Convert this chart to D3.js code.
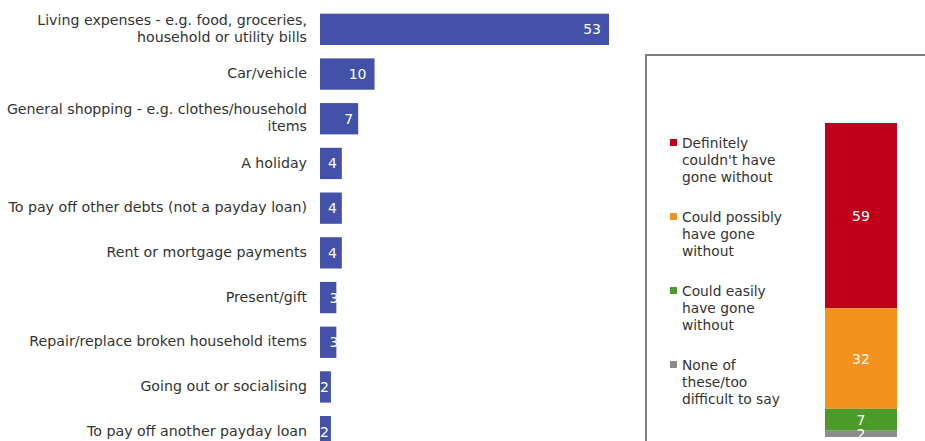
<!DOCTYPE html>
<html>
<head>
<meta charset="utf-8">
<script src="https://cdn.jsdelivr.net/npm/d3@7"></script>
<style>
  html, body { margin: 0; padding: 0; background: #fff; overflow: hidden; }
  text { font-family: "DejaVu Sans", Verdana, sans-serif; }
</style>
</head>
<body>
<script>
// ---- Data ----
const categories = [
  "Living expenses - e.g. food, groceries, household or utility bills",
  "Car/vehicle",
  "General shopping - e.g. clothes/household items",
  "A holiday",
  "To pay off other debts (not a payday loan)",
  "Rent or mortgage payments",
  "Present/gift",
  "Repair/replace broken household items",
  "Going out or socialising",
  "To pay off another payday loan"
];
const categoryLines = [
  ["Living expenses - e.g. food, groceries,", "household or utility bills"],
  ["Car/vehicle"],
  ["General shopping - e.g. clothes/household", "items"],
  ["A holiday"],
  ["To pay off other debts (not a payday loan)"],
  ["Rent or mortgage payments"],
  ["Present/gift"],
  ["Repair/replace broken household items"],
  ["Going out or socialising"],
  ["To pay off another payday loan"]
];
const values = [53, 10, 7, 4, 4, 4, 3, 3, 2, 2];

const stackSeries = [
  "Definitely couldn't have gone without",
  "Could possibly have gone without",
  "Could easily have gone without",
  "None of these/too difficult to say"
];
const legendLines = [
  ["Definitely", "couldn't have", "gone without"],
  ["Could possibly", "have gone", "without"],
  ["Could easily", "have gone", "without"],
  ["None of", "these/too", "difficult to say"]
];
const stackValues = [59, 32, 7, 2];
const stackColors = ["#C0001B", "#F5921E", "#4C9B2A", "#8C8C8C"];
const barColor = "#4351A8";

// ---- Layout ----
const W = 925, H = 441;
const svg = d3.select("body").append("svg").attr("width", W).attr("height", H);

// Left horizontal bar chart
const x = d3.scaleLinear().domain([0, 53]).range([320, 609]);
const y = d3.scaleBand().domain(categories).range([7, 454]).paddingInner(0.3).paddingOuter(0.15);

const left = svg.append("g");
left.selectAll("rect.bar").data(categories).join("rect")
  .attr("class", "bar")
  .attr("x", x(0))
  .attr("y", d => y(d))
  .attr("width", (d, i) => x(values[i]) - x(0))
  .attr("height", y.bandwidth())
  .attr("fill", barColor);

function padFor(w) {
  if (w > 40) return 8;
  if (w > 20) return 5;
  if (w > 14) return -2;
  return 2;
}
left.selectAll("text.val").data(categories).join("text")
  .attr("class", "val")
  .attr("x", (d, i) => x(values[i]) - padFor(x(values[i]) - x(0)))
  .attr("y", d => y(d) + y.bandwidth() / 2)
  .attr("dy", "0.36em")
  .attr("text-anchor", "end")
  .attr("fill", "#fff")
  .attr("font-size", 14)
  .text((d, i) => values[i]);

const lh = 17;
left.selectAll("text.cat").data(categories).join("text")
  .attr("class", "cat")
  .attr("text-anchor", "end")
  .attr("font-size", 14.2)
  .attr("fill", "#333")
  .each(function(d, i) {
    const lines = categoryLines[i];
    const cy = y(d) + y.bandwidth() / 2 - 1;
    const t = d3.select(this);
    lines.forEach((ln, j) => {
      t.append("tspan")
        .attr("x", 307)
        .attr("y", cy + (j - (lines.length - 1) / 2) * lh)
        .attr("dy", "0.36em")
        .text(ln);
    });
  });

// Right panel box
svg.append("rect")
  .attr("x", 646).attr("y", 55)
  .attr("width", 300).attr("height", 420)
  .attr("fill", "none")
  .attr("stroke", "#7f7f7f")
  .attr("stroke-width", 2);

// Stacked bar
const ys = d3.scaleLinear().domain([0, 100]).range([437, 123]);
const xs = d3.scaleBand().domain(["all"]).range([825, 897]);
let cum = 0;
const stacks = stackValues.map((v, i) => {
  const s = { key: stackSeries[i], y0: cum, y1: cum + v, v, color: stackColors[i] };
  cum += v;
  return s;
});
const right = svg.append("g");
right.selectAll("rect.seg").data(stacks).join("rect")
  .attr("class", "seg")
  .attr("x", xs("all"))
  .attr("width", xs.bandwidth())
  .attr("y", d => ys(100 - d.y0))
  .attr("height", d => ys(100 - d.y1) - ys(100 - d.y0))
  .attr("fill", d => d.color);

right.selectAll("text.sv").data(stacks).join("text")
  .attr("class", "sv")
  .attr("x", xs("all") + xs.bandwidth() / 2)
  .attr("y", d => (ys(100 - d.y0) + ys(100 - d.y1)) / 2)
  .attr("dy", "0.36em")
  .attr("text-anchor", "middle")
  .attr("fill", "#fff")
  .attr("font-size", 14)
  .text(d => d.v);

// Legend
const legTop = 143, legStep = 74;
const leg = right.selectAll("g.leg").data(stackSeries).join("g")
  .attr("class", "leg")
  .attr("transform", (d, i) => `translate(0,${legTop + i * legStep})`);
leg.append("rect")
  .attr("x", 670).attr("y", -4)
  .attr("width", 7).attr("height", 7)
  .attr("fill", (d, i) => stackColors[i]);
leg.append("text")
  .attr("font-size", 13.8)
  .attr("fill", "#333")
  .each(function(d, i) {
    const t = d3.select(this);
    legendLines[i].forEach((ln, j) => {
      t.append("tspan")
        .attr("x", 682)
        .attr("y", j * lh)
        .attr("dy", "0.36em")
        .text(ln);
    });
  });
</script>
</body>
</html>
